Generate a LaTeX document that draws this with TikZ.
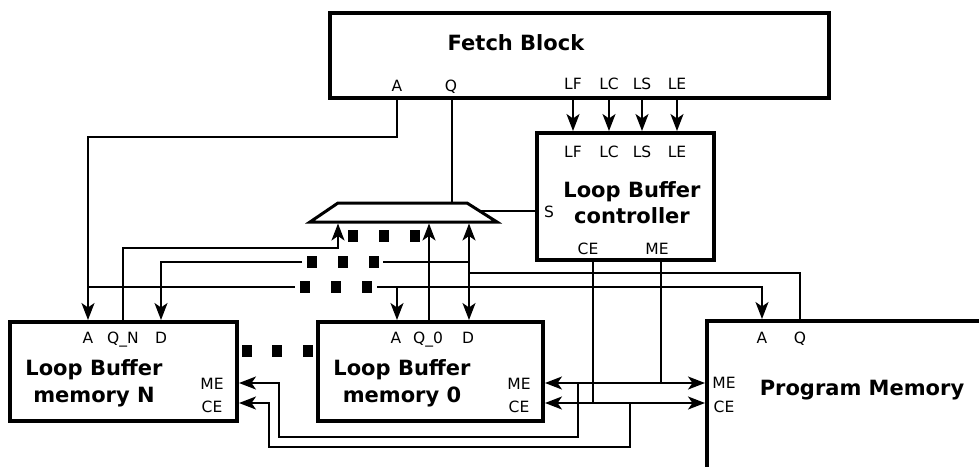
\documentclass[tikz,border=0pt]{standalone}
\usepackage{fontspec}
\setmainfont{DejaVu Sans}
\usetikzlibrary{arrows.meta}
\tikzset{
  box/.style={draw, line width=4pt, inner sep=0pt, fill=white},
  wire/.style={line width=2pt},
  tip/.style={-{Stealth[length=17pt,width=13pt,inset=4.5pt]}},
  bitip/.style={{Stealth[length=17pt,width=13pt,inset=4.5pt]}-{Stealth[length=17pt,width=13pt,inset=4.5pt]}},
  lbl/.style={font=\fontsize{15.5}{18}\selectfont, anchor=base, inner sep=0pt},
  ttl/.style={font=\fontsize{21}{26}\selectfont\bfseries, anchor=base, inner sep=0pt},
  dot/.style={fill=black, minimum width=10pt, minimum height=12pt, inner sep=0pt, draw=none},
}
\begin{document}
\begin{tikzpicture}[x=1pt,y=-1pt]
\useasboundingbox (0,0) rectangle (979,466);
\clip (0,0) rectangle (979,466);
% boxes
\node[box, minimum width=499pt, minimum height=85pt] (fetch) at (579.5,55.5) {};
\node[box, minimum width=177pt, minimum height=127pt] (ctrl) at (625.5,196.5) {};
\node[box, minimum width=227pt, minimum height=99pt] (lbn) at (123.5,371.5) {};
\node[box, minimum width=225pt, minimum height=99pt] (lbz) at (430.5,371.5) {};
\node[box, minimum width=283pt, minimum height=159pt] (pm) at (848.5,400.5) {};
% mux
\draw[line width=3pt, line join=miter] (338,203) -- (467,203) -- (497,222) -- (310,222) -- cycle;
% port coordinates
\coordinate (fA) at (397,98);  \coordinate (fQ) at (452,98);
\coordinate (fLF) at (573,98); \coordinate (fLC) at (609,98);
\coordinate (fLS) at (642,98); \coordinate (fLE) at (677,98);
\coordinate (cLF) at (573,131); \coordinate (cLC) at (609,131);
\coordinate (cLS) at (642,131); \coordinate (cLE) at (677,131);
\coordinate (cS) at (535,211); \coordinate (cCE) at (593,262); \coordinate (cME) at (661,262);
\coordinate (mQ) at (452,202); \coordinate (mS) at (480,211);
\coordinate (m1) at (338,223.5); \coordinate (m2) at (429,223.5); \coordinate (m3) at (469,223.5);
\coordinate (nA) at (88,320); \coordinate (nQ) at (123,320); \coordinate (nD) at (161,320);
\coordinate (nME) at (239,383); \coordinate (nCE) at (239,403);
\coordinate (zA) at (397,320); \coordinate (zQ) at (429,320); \coordinate (zD) at (469,320);
\coordinate (zME) at (545,383); \coordinate (zCE) at (545,403);
\coordinate (pA) at (762,319); \coordinate (pQ) at (800,319);
\coordinate (pME) at (705,383); \coordinate (pCE) at (705,403);
% wires
\draw[wire, tip] (fA) -- (397,137) -- (88,137) -- (nA);
\draw[wire] (fQ) -- (mQ);
\foreach \p in {LF,LC,LS,LE} \draw[wire, tip] (f\p) -- (c\p);
\draw[wire] (cS) -- (mS);
\draw[wire, tip] (nQ) -- (123,248) -- (338,248) -- (m1);
\draw[wire, tip] (zQ) -- (m2);
\draw[wire, bitip] (m3) -- (zD);
\draw[wire, tip] (302,262) -- (161,262) -- (nD);
\draw[wire] (383,262) -- (469,262);
\draw[wire] (pQ) -- (800,273) -- (469,273);
\draw[wire] (88,287) -- (295,287);
\draw[wire, tip] (377,287) -- (762,287) -- (pA);
\draw[wire, tip] (397,287) -- (zA);
\draw[wire] (cME) -- (661,383);
\draw[wire] (cCE) -- (593,403);
\draw[wire, bitip] (zME) -- (pME);
\draw[wire, bitip] (zCE) -- (pCE);
\draw[wire, tip] (578,383) -- (578,437) -- (279,437) -- (279,383) -- (nME);
\draw[wire, tip] (630,403) -- (630,447) -- (269,447) -- (269,403) -- (nCE);
% dots
\foreach \x in {353,384,415} \node[dot] (dt\x) at (\x,236) {};
\foreach \x in {312,343,374} \node[dot] (dd\x) at (\x,262) {};
\foreach \x in {305,336,367} \node[dot] (da\x) at (\x,287) {};
\foreach \x in {247,277,308} \node[dot] (dm\x) at (\x,351) {};
% labels
\node[ttl] (tFetch) at (516,50) {Fetch Block};
\node[lbl] (lfA) at (397,91) {A};
\node[lbl] (lfQ) at (451,91) {Q};
\node[lbl] (lfLF) at (573,89) {LF};
\node[lbl] (lfLC) at (609,89) {LC};
\node[lbl] (lfLS) at (642,89) {LS};
\node[lbl] (lfLE) at (677,89) {LE};
\node[lbl] (lcLF) at (573,157) {LF};
\node[lbl] (lcLC) at (609,157) {LC};
\node[lbl] (lcLS) at (642,157) {LS};
\node[lbl] (lcLE) at (677,157) {LE};
\node[ttl] (tCtrl1) at (632,197) {Loop Buffer};
\node[ttl] (tCtrl2) at (632,223) {controller};
\node[lbl] (lcS) at (549,217) {S};
\node[lbl] (lcCE) at (588,254) {CE};
\node[lbl] (lcME) at (657,254) {ME};
\node[lbl] (lnA) at (88,343) {A};
\node[lbl] (lnQ) at (123,343) {Q\_N};
\node[lbl] (lnD) at (161,343) {D};
\node[lbl] (lnME) at (212,389) {ME};
\node[lbl] (lnCE) at (212,412) {CE};
\node[ttl] (tN1) at (94,375) {Loop Buffer};
\node[ttl] (tN2) at (94,402) {memory N};
\node[lbl] (lzA) at (396,343) {A};
\node[lbl] (lzQ) at (428,343) {Q\_0};
\node[lbl] (lzD) at (468,343) {D};
\node[lbl] (lzME) at (519,389) {ME};
\node[lbl] (lzCE) at (519,412) {CE};
\node[ttl] (tZ1) at (402,375) {Loop Buffer};
\node[ttl] (tZ2) at (402,402) {memory 0};
\node[lbl] (lpA) at (762,343) {A};
\node[lbl] (lpQ) at (800,343) {Q};
\node[lbl] (lpME) at (724,388) {ME};
\node[lbl] (lpCE) at (724,412) {CE};
\node[ttl] (tPM) at (862,395) {Program Memory};
\end{tikzpicture}
\end{document}
